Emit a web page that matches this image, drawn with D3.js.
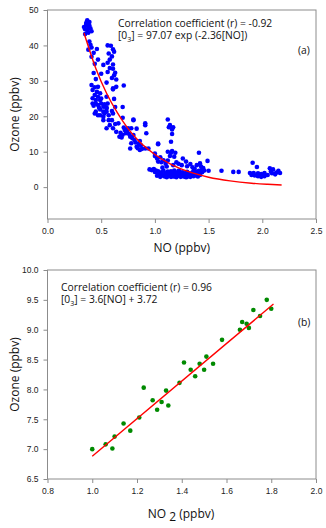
<!DOCTYPE html>
<html>
<head>
<meta charset="utf-8">
<script src="https://cdn.jsdelivr.net/npm/d3@7"></script>
<style>
  body { margin: 0; background: #fff; }
  svg { display: block; font-family: 'Open Sans', 'Noto Sans', sans-serif; }
</style>
</head>
<body>
<svg id="chart" width="326" height="528"></svg>
<script>
// panel (a): NO vs ozone
const pointsA = [
  [0.37,47.1],[0.38,46.2],[0.36,45.8],[0.34,45.2],[0.35,44.6],[0.37,44.2],[0.39,45.6],[0.40,44.8],
  [0.35,43.2],[0.38,43.6],[0.39,46.6],[0.36,46.3],[0.41,44.0],[0.38,44.9],
  [0.39,41.1],[0.40,40.2],[0.41,39.4],[0.38,38.8],[0.46,39.0],[0.43,37.9],[0.41,36.8],[0.47,36.0],
  [0.44,34.8],[0.52,34.5],[0.43,32.2],[0.50,32.0],[0.45,30.5],
  [0.56,40.0],[0.59,39.9],[0.61,38.9],[0.62,38.2],[0.57,37.7],[0.60,36.9],[0.58,36.0],[0.56,35.1],
  [0.61,34.6],[0.58,33.6],[0.61,33.4],[0.56,32.5],[0.63,32.3],[0.62,31.6],[0.64,30.4],[0.60,30.8],
  [0.61,27.9],[0.71,28.7],[0.64,28.3],[0.55,29.5],
  [0.41,28.8],[0.44,28.2],[0.47,28.3],[0.42,27.4],[0.46,26.9],[0.44,26.0],[0.49,26.5],[0.47,25.5],
  [0.42,25.1],[0.45,24.6],[0.49,24.6],[0.42,23.6],[0.45,23.6],[0.47,23.2],[0.50,23.6],[0.53,23.4],
  [0.56,23.6],[0.55,22.5],[0.49,21.9],[0.45,21.3],[0.52,21.3],[0.55,21.3],[0.49,20.3],[0.52,19.9],
  [0.57,20.3],[0.44,20.8],[0.47,20.3],[0.52,22.7],[0.55,22.2],[0.52,18.9],[0.57,18.9],[0.60,18.9],
  [0.58,17.5],[0.63,17.8],[0.55,16.6],[0.61,16.6],[0.63,22.6],[0.70,22.6],[0.70,19.6],[0.62,24.9],
  [0.55,25.5],[0.61,27.6],[0.43,23.0],[0.50,25.0],[0.48,22.4],[0.53,20.8],[0.60,21.5],
  [0.61,20.8],[0.66,18.0],[0.64,15.6],[0.67,14.2],[0.69,14.0],[0.72,16.1],[0.75,16.6],[0.78,16.6],
  [0.80,18.9],[0.73,15.2],[0.77,14.2],[0.80,14.7],[0.81,13.3],[0.77,10.9],[0.83,11.4],[0.86,10.5],
  [0.85,12.2],[0.87,11.8],[0.91,18.0],[0.92,15.2],[0.91,10.9],[0.94,10.9],[0.74,15.8],[0.76,15.0],
  [0.79,13.8],[0.82,12.6],[0.84,11.0],[0.88,10.8],[0.70,14.8],[0.78,12.4],[0.86,13.0],[0.83,16.5],
  [0.71,16.8],[0.68,15.3],[0.80,19.1],[0.91,17.5],
  [1.03,12.3],[1.02,8.1],[1.03,7.2],[0.97,4.8],[1.00,4.3],[1.03,4.5],[0.99,5.1],[0.95,5.0],
  [1.01,4.7],[1.00,8.8],[1.03,12.1],[1.05,8.4],[1.06,7.0],[1.08,7.6],[1.10,6.6],[1.12,7.5],
  [1.15,9.7],[1.12,10.0],[1.19,9.7],[1.14,8.8],[1.18,8.6],[1.16,10.2],[1.26,8.1],[1.29,7.2],
  [1.41,9.7],[1.42,6.7],[1.39,6.2],[1.49,7.4],[1.22,6.6],[1.25,6.2],[1.30,5.9],[1.35,5.6],
  [1.37,5.2],[1.20,7.0],[1.17,6.2],[1.11,5.8],[1.07,5.5],[1.45,5.4],[1.43,5.8],[1.33,6.5],
  [1.00,9.5],
  [1.12,19.1],[1.14,17.5],[1.16,16.3],[1.17,16.9],[1.16,15.0],[1.15,12.8],[1.13,16.9],
  [1.02,3.2],[1.04,3.8],[1.05,2.9],[1.06,4.2],[1.07,3.4],[1.08,4.6],[1.09,3.0],[1.10,3.9],
  [1.11,2.8],[1.12,4.4],[1.13,3.3],[1.14,3.7],[1.15,2.9],[1.16,4.1],[1.17,3.1],[1.18,4.7],
  [1.19,3.5],[1.20,2.8],[1.21,4.0],[1.22,3.2],[1.23,4.5],[1.24,2.9],[1.25,3.6],[1.26,4.2],
  [1.27,3.0],[1.28,3.8],[1.29,2.8],[1.30,4.3],[1.31,3.3],[1.32,3.9],[1.33,2.9],[1.34,3.5],
  [1.35,4.1],[1.36,3.1],[1.37,3.7],[1.38,4.4],[1.39,3.2],[1.40,3.9],[1.41,4.6],[1.42,3.4],
  [1.44,4.2],[1.46,4.7],[1.50,4.6],[1.435,4.8],[1.05,3.6],[1.11,3.5],[1.18,3.0],[1.23,3.4],
  [1.28,3.0],[1.33,3.3],[1.08,3.2],[1.15,4.5],[1.22,4.6],[1.03,4.0],[1.12,3.1],[1.19,4.2],
  [1.26,3.4],[1.30,2.9],[1.36,4.6],[1.40,3.0],
  [1.62,4.6],[1.73,4.3],[1.78,4.3],[1.91,6.9],[1.95,5.7],[1.885,4.0],[1.90,3.4],[1.92,4.0],
  [1.96,3.9],[1.99,3.7],[2.02,4.0],[2.02,3.1],[2.07,5.3],[2.10,5.0],[2.09,3.9],[2.13,4.1],
  [2.165,4.0],[1.96,3.1],[1.99,2.9],[2.05,3.4],[2.12,3.6],[1.93,3.3],[2.15,4.6],[2.08,4.4]
]
// fitted exponential curve, sampled along the red line
const curveNO = [0.34, 0.45, 0.55, 0.65, 0.75, 0.85, 1.0, 1.15, 1.3, 1.5, 1.7, 1.9, 2.05, 2.18]
const curveO3 = [43.5, 33.5, 26.5, 21.0, 16.5, 13.0, 9.2, 6.4, 4.5, 2.8, 1.75, 1.1, 0.8, 0.6]

// panel (b): NO2 vs ozone
const no2B = [1.00, 1.06, 1.09, 1.10, 1.14, 1.17, 1.21, 1.23, 1.27, 1.29, 1.31, 1.33, 1.34, 1.39,
  1.41, 1.44, 1.46, 1.48, 1.50, 1.51, 1.54, 1.58, 1.66, 1.67, 1.69, 1.70, 1.72, 1.75, 1.78, 1.80]
const o3B = [7.00, 7.08, 7.01, 7.21, 7.43, 7.31, 7.53, 8.03, 7.82, 7.66, 7.79, 7.98, 7.73, 8.11,
  8.45, 8.33, 8.22, 8.43, 8.33, 8.55, 8.43, 8.83, 9.00, 9.13, 9.10, 9.03, 9.33, 9.23, 9.50, 9.35]
const fitX = [1.00, 1.81]
const fitY = [6.88, 9.43]

const ticksA = { x: [0, 0.5, 1.0, 1.5, 2.0, 2.5], y: [0, 10, 20, 30, 40, 50] }
const ticksB = { x: [0.8, 1.0, 1.2, 1.4, 1.6, 1.8, 2.0], y: [6.5, 7.0, 7.5, 8.0, 8.5, 9.0, 9.5, 10.0] }

const svg = d3.select('#chart')
const left = 47.5, right = 316

const panel = ({ top, bottom, xDomain, yDomain, ticks, yFmt, tag }) => {
  const x = d3.scaleLinear().domain(xDomain).range([left, right])
  const y = d3.scaleLinear().domain(yDomain).range([bottom, top])
  const g = svg.append('g').attr('class', tag)

  g.append('rect')
    .attr('x', left).attr('y', top)
    .attr('width', right - left).attr('height', bottom - top)
    .attr('fill', 'none').attr('stroke', '#8c8c8c').attr('stroke-width', 1)

  const styleAxis = a => {
    a.select('.domain').remove()
    a.selectAll('.tick line').attr('stroke', '#8c8c8c')
    a.selectAll('.tick text').attr('fill', '#222').style('font-size', '8.5px')
  }

  g.append('g')
    .attr('transform', `translate(0,${bottom})`)
    .call(d3.axisBottom(x).tickValues(ticks.x).tickFormat(d3.format('.1f')).tickSize(4).tickPadding(5))
    .call(styleAxis)

  g.append('g')
    .attr('transform', `translate(${left},0)`)
    .call(d3.axisLeft(y).tickValues(ticks.y).tickFormat(yFmt).tickSize(4).tickPadding(5))
    .call(styleAxis)

  g.append('text')
    .attr('transform', `translate(19,${(top + bottom) / 2}) rotate(-90)`)
    .attr('text-anchor', 'middle')
    .style('font-size', '12px')
    .attr('fill', '#111')
    .text('Ozone (ppbv)')

  return { g, x, y }
}

// (a)
const a = panel({ top: 10, bottom: 219, xDomain: [0, 2.5], yDomain: [-9, 50],
  ticks: ticksA, yFmt: d3.format('d'), tag: 'panelA' })

a.g.selectAll('.dot')
  .data(pointsA)
  .join('circle')
  .attr('class', 'dot')
  .attr('cx', d => a.x(d[0]))
  .attr('cy', d => a.y(d[1]))
  .attr('r', 2.3)
  .attr('fill', '#0000ff')

a.g.append('path')
  .datum(d3.zip(curveNO, curveO3))
  .attr('fill', 'none')
  .attr('stroke', '#ff0000')
  .attr('stroke-width', 1.4)
  .attr('d', d3.line().x(d => a.x(d[0])).y(d => a.y(d[1])).curve(d3.curveMonotoneX))

a.g.append('text')
  .attr('x', (left + right) / 2).attr('y', 252)
  .attr('text-anchor', 'middle')
  .style('font-size', '12px')
  .attr('fill', '#111')
  .text('NO (ppbv)')

const noteA = a.g.append('text').style('font-size', '10.3px').attr('fill', '#111')
noteA.append('tspan').attr('x', 118).attr('y', 26.5).text('Correlation coefficient (r) = -0.92')
const lineA = noteA.append('tspan').attr('x', 118).attr('y', 39)
lineA.append('tspan').text('[0')
lineA.append('tspan').attr('dy', 2.5).style('font-size', '7px').text('3')
lineA.append('tspan').attr('dy', -2.5).text('] = 97.07 exp (-2.36[NO])')

a.g.append('text')
  .attr('x', 298).attr('y', 54)
  .style('font-size', '10.3px')
  .attr('fill', '#111')
  .text('(a)')

// (b)
const b = panel({ top: 270, bottom: 479, xDomain: [0.8, 2.0], yDomain: [6.5, 10.0],
  ticks: ticksB, yFmt: d3.format('.1f'), tag: 'panelB' })

b.g.selectAll('.dot')
  .data(d3.zip(no2B, o3B))
  .join('circle')
  .attr('class', 'dot')
  .attr('cx', d => b.x(d[0]))
  .attr('cy', d => b.y(d[1]))
  .attr('r', 2.3)
  .attr('fill', '#008a00')

b.g.append('path')
  .datum(d3.zip(fitX, fitY))
  .attr('fill', 'none')
  .attr('stroke', '#ff0000')
  .attr('stroke-width', 1.4)
  .attr('d', d3.line().x(d => b.x(d[0])).y(d => b.y(d[1])))

const titleB = b.g.append('text')
  .attr('x', 181).attr('y', 518)
  .attr('text-anchor', 'middle')
  .style('font-size', '12px')
  .attr('fill', '#111')
titleB.append('tspan').text('NO ')
titleB.append('tspan').attr('dy', 3).text('2')
titleB.append('tspan').attr('dy', -3).text(' (ppbv)')

const noteB = b.g.append('text').style('font-size', '10.3px').attr('fill', '#111')
noteB.append('tspan').attr('x', 61).attr('y', 290.5).text('Correlation coefficient (r) = 0.96')
const lineB = noteB.append('tspan').attr('x', 61).attr('y', 303)
lineB.append('tspan').text('[0')
lineB.append('tspan').attr('dy', 2.5).style('font-size', '7px').text('3')
lineB.append('tspan').attr('dy', -2.5).text('] = 3.6[NO] + 3.72')

b.g.append('text')
  .attr('x', 298).attr('y', 325.5)
  .style('font-size', '10.3px')
  .attr('fill', '#111')
  .text('(b)')
</script>
</body>
</html>
